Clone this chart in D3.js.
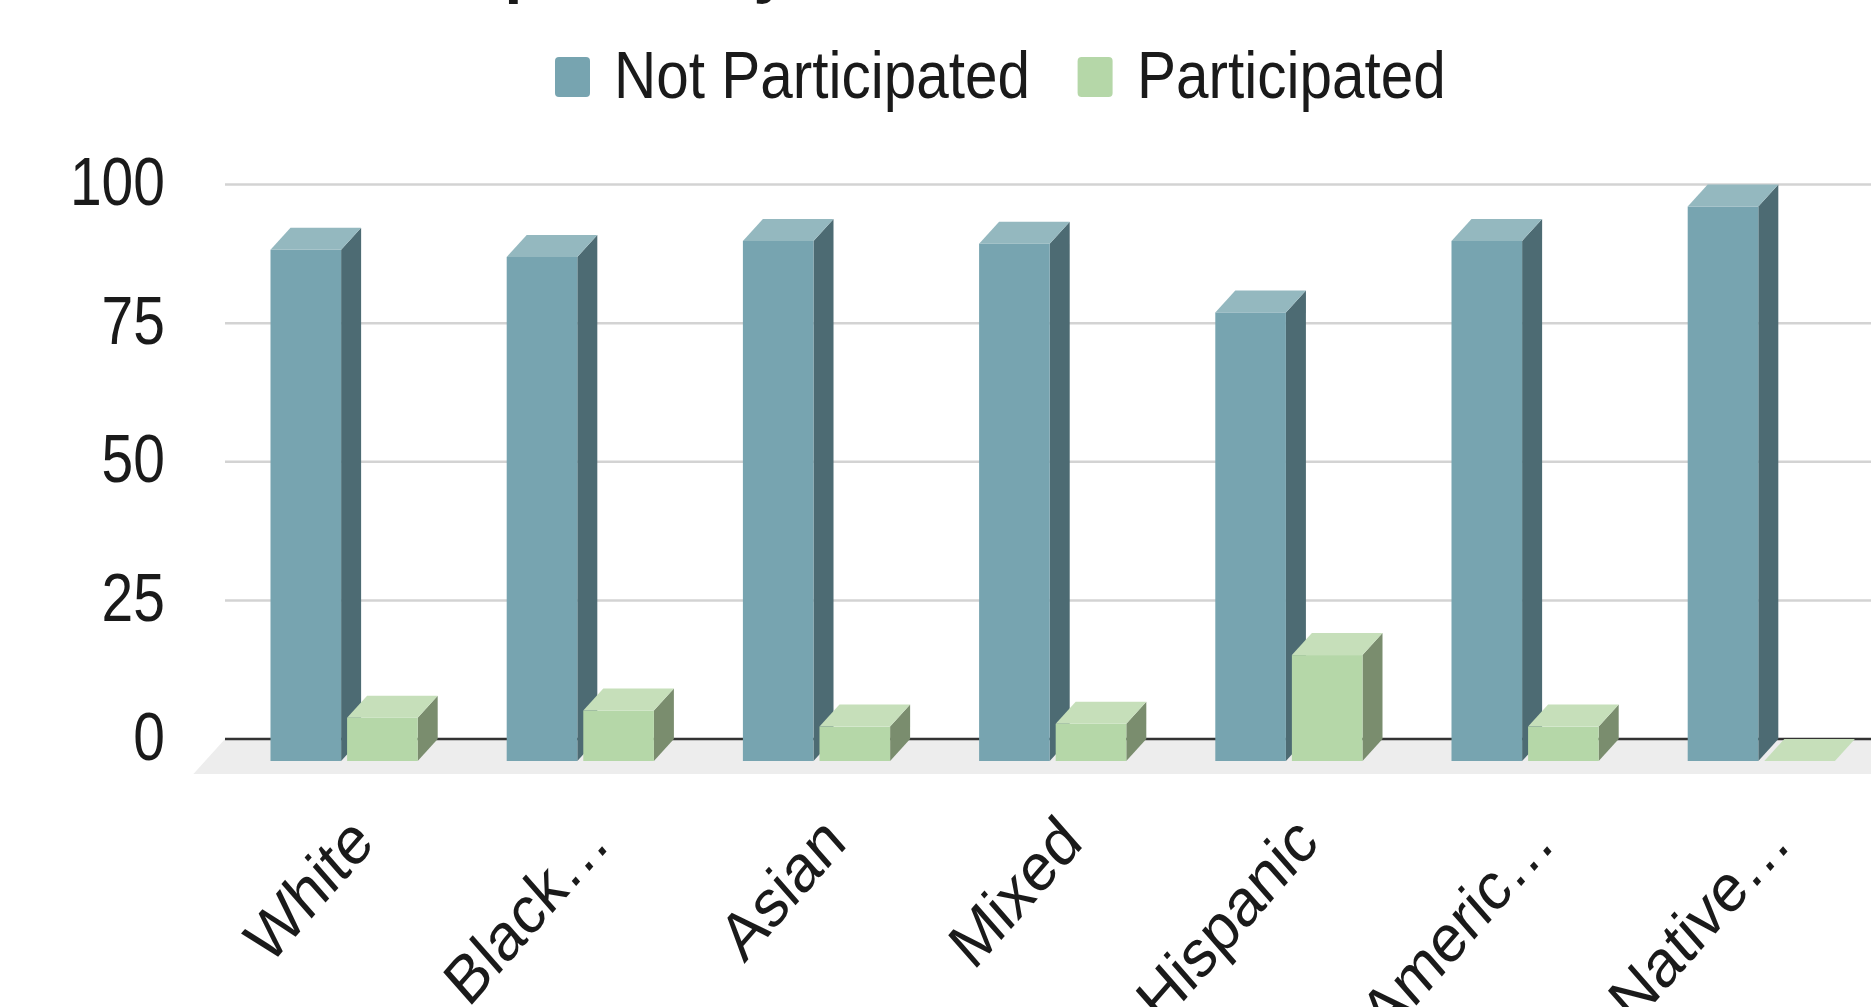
<!DOCTYPE html>
<html>
<head>
<meta charset="utf-8">
<script src="https://cdn.jsdelivr.net/npm/d3@7"></script>
<style>
  html, body { margin: 0; padding: 0; background: #ffffff; }
  svg { display: block; }
  text { font-family: "Liberation Sans", Arial, sans-serif; fill: #1a1a1a; }
</style>
</head>
<body>
<svg id="chart" width="1871" height="1007"></svg>
<script>
// ---- data ----
const titleText = "Participation by Race";
const categories = ["White", "Black…", "Asian", "Mixed", "Hispanic", "Americ…", "Native…"];
const seriesNames = ["Not Participated", "Participated"];
const notParticipated = [92.2, 90.9, 93.8, 93.3, 80.9, 93.8, 100];
const participated = [7.8, 9.1, 6.2, 6.7, 19.1, 6.2, 0];
const yTicks = [0, 25, 50, 75, 100];

// ---- styles ----
const palette = {
  "Not Participated": { front: "#77a4b0", top: "#94b8bf", side: "#4d6b73" },
  "Participated":     { front: "#b5d7a8", top: "#c6dfba", side: "#7a8d6e" }
};
const TS = 1.14;           // vertical text stretch seen in the reference
const depthX = 20, depthY = 22;

const svg = d3.select("#chart");
const W = 1871;

const y = d3.scaleLinear().domain([0, 100]).range([739, 184.5]);
const step = 236.2, gap = 89;
const x0 = d3.scaleBand().domain(categories)
  .range([226, 226 + categories.length * step])
  .paddingInner(gap / step).paddingOuter(gap / step / 2);
const x1 = d3.scaleBand().domain(seriesNames)
  .range([0, x0.bandwidth()]).paddingInner(0.078);

// ---- title (cut off at the top) ----
svg.append("text")
  .attr("transform", `translate(309,-11) scale(1,${TS})`)
  .style("font-weight", "bold").style("font-size", "64px")
  .text(titleText);

// ---- legend ----
const legendItems = [
  { name: seriesNames[0], sx: 555, tx: 614 },
  { name: seriesNames[1], sx: 1077.6, tx: 1137 }
];
const lg = svg.append("g");
legendItems.forEach(it => {
  lg.append("rect").attr("x", it.sx).attr("y", 57).attr("width", 35).attr("height", 40)
    .attr("rx", 4).attr("fill", palette[it.name].front);
  lg.append("text").attr("transform", `translate(${it.tx},97.5) scale(1,${TS})`)
    .style("font-size", "58.5px").text(it.name);
});

// ---- ground plane ----
svg.append("polygon")
  .attr("points", [[225, 739], [W + 40, 739], [W + 40, 774], [193.4, 774]].map(p => p.join(",")).join(" "))
  .attr("fill", "#ededed");

// ---- gridlines + y labels ----
svg.append("g").selectAll("line").data(yTicks.filter(t => t !== 0)).join("line")
  .attr("x1", 225).attr("x2", W + 10)
  .attr("y1", d => y(d)).attr("y2", d => y(d))
  .attr("stroke", "#d3d3d3").attr("stroke-width", 2.5);
svg.append("line").attr("x1", 225).attr("x2", W + 10).attr("y1", y(0)).attr("y2", y(0))
  .attr("stroke", "#333333").attr("stroke-width", 2.5);

svg.append("g").selectAll("text").data(yTicks).join("text")
  .attr("transform", d => `translate(165,${y(d) + 20.5}) scale(1,1.2)`)
  .attr("text-anchor", "end").style("font-size", "57px")
  .text(d => d);

// ---- 3D bars ----
const rows = categories.map((c, i) => ({
  cat: c,
  vals: [
    { s: seriesNames[0], v: notParticipated[i] },
    { s: seriesNames[1], v: participated[i] }
  ]
}));
const bars = svg.append("g");
const pts = a => a.map(p => p.join(",")).join(" ");
rows.forEach(r => {
  r.vals.forEach(d => {
    const xf = x0(r.cat) + x1(d.s);
    const w = x1.bandwidth();
    const yt = y(d.v) + depthY;   // front face top
    const yb = y(0) + depthY;     // front face bottom
    const c = palette[d.s];
    const g = bars.append("g");
    if (yb - yt > 0.5) {
      g.append("polygon").attr("points", pts([[xf + w, yt], [xf + w + depthX, yt - depthY], [xf + w + depthX, yb - depthY], [xf + w, yb]]))
        .attr("fill", c.side);
      g.append("rect").attr("x", xf).attr("y", yt).attr("width", w).attr("height", yb - yt)
        .attr("fill", c.front);
    }
    g.append("polygon").attr("points", pts([[xf, yt], [xf + depthX, yt - depthY], [xf + w + depthX, yt - depthY], [xf + w, yt]]))
      .attr("fill", c.top);
  });
});

// ---- x labels ----
svg.append("g").selectAll("text").data(categories).join("text")
  .attr("transform", d => `translate(${x0(d) + x0.bandwidth() / 2 + 32},845) scale(1,${TS}) rotate(-45)`)
  .attr("text-anchor", "end").style("font-size", "59px")
  .text(d => d);
</script>
</body>
</html>
